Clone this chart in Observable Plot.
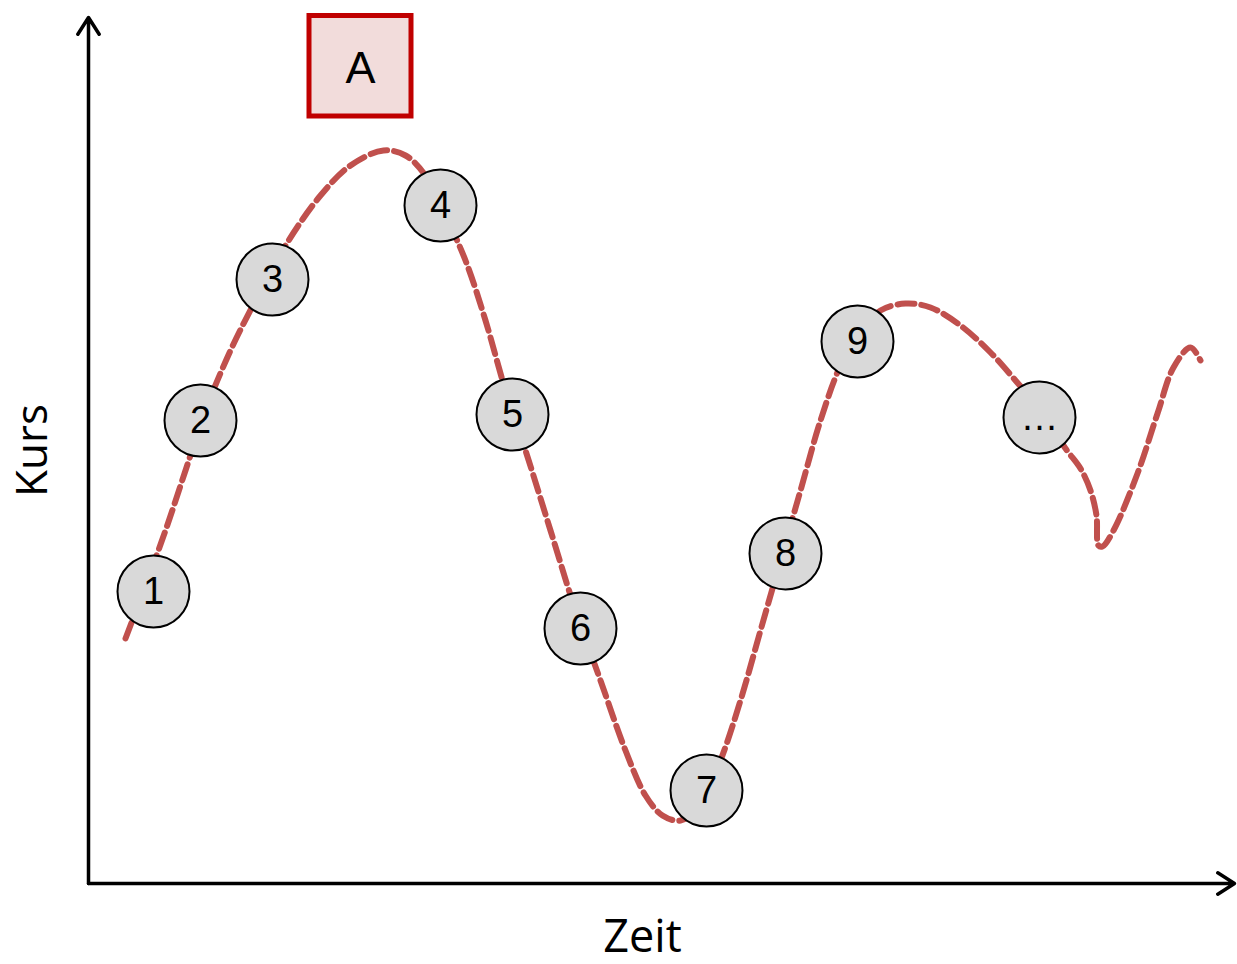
<!DOCTYPE html>
<html>
<head>
<meta charset="utf-8">
<script src="https://cdn.jsdelivr.net/npm/d3@7"></script>
<script src="https://cdn.jsdelivr.net/npm/@observablehq/plot@0.6"></script>
<style>
  html, body { margin: 0; padding: 0; background: #fff; }
  #chart svg { display: block; }
</style>
</head>
<body>
<div id="chart"></div>
<script>
// Price curve (Zeit, Kurs)
const curveZeit = [37, 57, 77, 97, 117, 142, 167, 197, 232, 262, 295, 317, 337, 357, 377, 397, 417, 437, 462, 487, 512, 537, 557, 574, 592, 612, 632, 652, 672, 692, 712, 732, 752, 772, 792, 817, 842, 872, 902, 927, 952, 977, 992, 1002, 1008, 1010, 1014, 1025, 1049, 1069, 1085, 1102, 1112];
const curveKurs = [245, 298, 353, 413, 473, 533, 583, 638, 688, 718, 733, 728, 708, 668, 623, 563, 493, 433, 353, 273, 203, 133, 88, 68, 63, 78, 123, 183, 253, 323, 393, 463, 518, 553, 573, 580, 576, 558, 531, 503, 473, 435, 415, 393, 368, 338, 337, 353, 410, 470, 516, 536, 523];

// Numbered stations
const stationLabels = ["1", "2", "3", "4", "5", "6", "7", "8", "9", "…"];
const stationZeit = [65, 112, 184, 352, 424, 492, 618, 697, 769, 951];
const stationKurs = [292, 463, 604, 678, 469, 255, 93, 330, 542, 466];

// Box "A"
const boxLabel = ["A"];
const boxZeit = [221, 323];
const boxKurs = [767, 867.5];

// Axes
const zeitMax = 1146;
const kursMax = 866;
const axisLabelX = "Zeit";
const axisLabelY = "Kurs";

const curve = curveZeit.map((t, i) => ({t, k: curveKurs[i]}));
const stations = stationLabels.map((label, i) => ({label, t: stationZeit[i], k: stationKurs[i]}));
const box = boxLabel.map(label => ({label, x1: boxZeit[0], x2: boxZeit[1], y1: boxKurs[0], y2: boxKurs[1]}));
const axes = [
  {x1: 0, y1: 0, x2: 0, y2: kursMax},
  {x1: 0, y1: 0, x2: zeitMax, y2: 0}
];

const font = "'Liberation Sans', Arial, Helvetica, sans-serif";
const labelFont = "'Open Sans', 'Liberation Sans', sans-serif";

const chart = Plot.plot({
  width: 1237,
  height: 964,
  marginLeft: 88,
  marginRight: 3,
  marginTop: 17,
  marginBottom: 81,
  x: {domain: [0, zeitMax], axis: null},
  y: {domain: [0, kursMax], axis: null},
  style: {fontFamily: font, background: "#fff"},
  marks: [
    Plot.arrow(axes, {x1: "x1", y1: "y1", x2: "x2", y2: "y2", stroke: "#000", strokeWidth: 3.5, headLength: 8.5, headAngle: 65}),
    Plot.line(curve, {x: "t", y: "k", curve: "catmull-rom", stroke: "#c0504d", strokeWidth: 6, strokeDasharray: "17,7"}),
    Plot.dot(stations, {x: "t", y: "k", r: 36, fill: "#d9d9d9", stroke: "#000", strokeWidth: 2}),
    Plot.text(stations, {x: "t", y: "k", text: "label", fontSize: 38, fill: "#000"}),
    Plot.rect(box, {x1: "x1", x2: "x2", y1: "y1", y2: "y2", fill: "#f2dcdb", stroke: "#c00000", strokeWidth: 5}),
    Plot.text(box, {x: d => (d.x1 + d.x2) / 2, y: d => (d.y1 + d.y2) / 2, text: "label", fontSize: 45, fill: "#000", dy: 2}),
    Plot.text([axisLabelX], {frameAnchor: "bottom", text: d => d, fontFamily: labelFont, fontSize: 45, fill: "#000", textAnchor: "middle", dx: -19, dy: 68}),
    Plot.text([axisLabelY], {frameAnchor: "left", text: d => d, fontFamily: labelFont, fontSize: 44, fill: "#000", textAnchor: "middle", rotate: -90, dx: -56, dy: 0})
  ]
});
document.getElementById("chart").append(chart);
</script>
</body>
</html>
